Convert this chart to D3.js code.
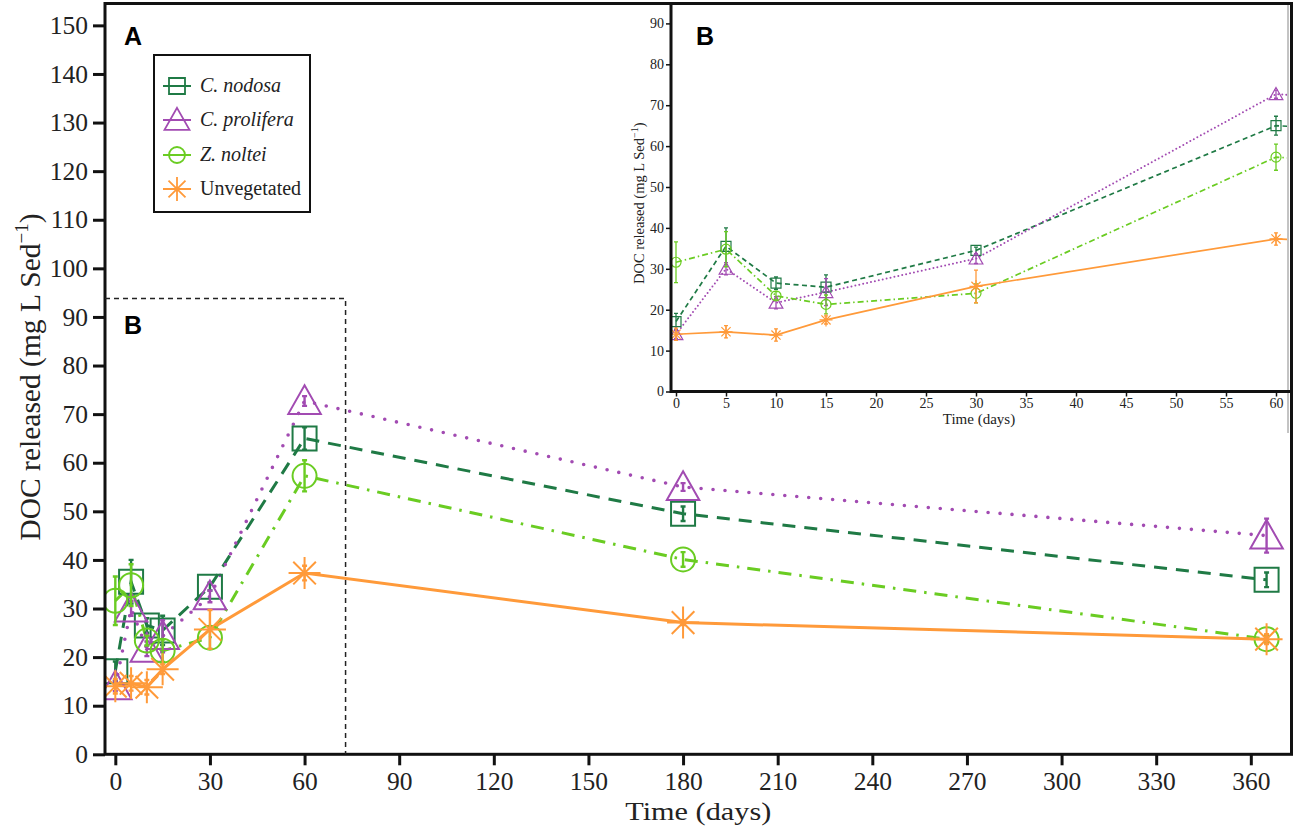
<!DOCTYPE html>
<html><head><meta charset="utf-8">
<script src="https://cdn.jsdelivr.net/npm/d3@7"></script>
<style>body{margin:0;background:#fff}svg{display:block}</style>
</head><body>
<svg id="chart" width="1299" height="830"></svg>
<script>
// ---------- data ----------
const days = [0, 5, 10, 15, 30, 60, 180, 365];
const seriesNames = ["C. nodosa", "C. prolifera", "Z. noltei", "Unvegetated"];
const nodosa      = [17.1, 35.5, 26.5, 25.5, 34.5, 65.0, 49.5, 35.9];
const nodosaErr   = [2.0, 4.5, 1.5, 3.0, 0.8, 2.3, 1.5, 1.5];
const prolifera    = [14.0, 30.0, 21.7, 24.3, 32.5, 72.7, 55.0, 45.0];
const proliferaErr = [1.0, 1.5, 1.5, 3.3, 1.2, 1.0, 0.8, 3.5];
const noltei      = [31.6, 34.8, 23.4, 21.3, 24.0, 57.3, 40.1, 23.7];
const nolteiErr   = [5.0, 4.3, 1.0, 2.3, 2.3, 3.2, 1.5, 0.8];
const unveg       = [14.0, 14.6, 13.8, 17.5, 25.7, 37.3, 27.1, 23.7];
const unvegErr    = [1.5, 1.5, 1.5, 1.0, 4.0, 1.5, 0.5, 1.0];
const mainYTicks = d3.range(0, 151, 10);
const mainXTicks = d3.range(0, 361, 30);
const insetYTicks = d3.range(0, 91, 10);
const insetXTicks = d3.range(0, 61, 5);
const zoomBox = {day: 73, value: 93.8};

// ---------- styles ----------
const colors = ["#1f7a45", "#a24bb2", "#6acc22", "#ff9a3a"];
const symbols = ["square", "triangle", "circle", "asterisk"];
const dashMain = ["13,9", "0,12", "13,8,2.5,8", null];
const dashInset = ["5,3.5", "0,4", "6,3,1.5,3", null];

const series = seriesNames.map((n, i) => ({
  name: n, color: colors[i], symbol: symbols[i],
  vals: [nodosa, prolifera, noltei, unveg][i],
  errs: [nodosaErr, proliferaErr, nolteiErr, unvegErr][i],
  dm: dashMain[i], di: dashInset[i]
}));

const svg = d3.select("#chart");
const SERIF = "'Liberation Serif','Times New Roman',serif";
const SANS = "'Liberation Sans',Arial,sans-serif";

function markerPath(sym, s) {
  if (sym === "square") return `M${-s},${-s}H${s}V${s}H${-s}Z`;
  if (sym === "circle") return `M${s},0A${s},${s} 0 1 1 ${-s},0A${s},${s} 0 1 1 ${s},0Z`;
  if (sym === "triangle") { const w = s * 1.25, h = s * 1.1; return `M0,${-h * 1.1}L${w},${h * 0.9}L${-w},${h * 0.9}Z`; }
  if (sym === "asterisk") {
    const d = s * 0.7071;
    return `M0,${-s}V${s}M${-s},0H${s}M${-d},${-d}L${d},${d}M${-d},${d}L${d},${-d}`;
  }
}

// ---------- main plot ----------
const L = 105, R = 1291.5, T = 3.5, B = 754.3;
const x = d3.scaleLinear().domain([-3.27, 372.9]).range([L, R]);
const y = d3.scaleLinear().domain([0, 154.5]).range([B, T]);

const gMain = svg.append("g");
gMain.append("defs").append("clipPath").attr("id", "clipMain")
  .append("rect").attr("x", L).attr("y", T).attr("width", R - L).attr("height", B - T);

const plotMain = gMain.append("g").attr("clip-path", "url(#clipMain)");
series.forEach(s => {
  const pts = days.map((d, i) => [d, s.vals[i], s.errs[i]]);
  plotMain.append("path")
    .attr("d", d3.line().x(p => x(p[0])).y(p => y(p[1]))(pts))
    .attr("fill", "none").attr("stroke", s.color).attr("stroke-width", s.symbol === "triangle" ? 3.6 : 3)
    .attr("stroke-dasharray", s.dm).attr("stroke-linecap", s.symbol === "triangle" ? "round" : "butt");
});
series.forEach(s => {
  const pts = days.map((d, i) => [d, s.vals[i], s.errs[i]]);
  const eg = plotMain.append("g").attr("stroke", s.color).attr("stroke-width", 2.4).attr("fill", "none");
  eg.selectAll("path.err").data(pts).join("path")
    .attr("d", p => `M${x(p[0])},${y(p[1] - p[2])}V${y(p[1] + p[2])}M${x(p[0]) - 2.5},${y(p[1] - p[2])}h5M${x(p[0]) - 2.5},${y(p[1] + p[2])}h5`);
  eg.selectAll("path.mk").data(pts).join("path")
    .attr("transform", p => `translate(${x(p[0])},${y(p[1])})`)
    .attr("d", markerPath(s.symbol, s.symbol === "asterisk" ? 16 : s.symbol === "triangle" ? 13 : 12))
    .attr("stroke-width", 2);
});

// axes
const axL = gMain.append("g").attr("transform", `translate(${L},0)`)
  .call(d3.axisLeft(y).tickValues(mainYTicks).tickSize(12).tickPadding(5));
const axB = gMain.append("g").attr("transform", `translate(0,${B})`)
  .call(d3.axisBottom(x).tickValues(mainXTicks).tickSize(11).tickPadding(7));
[axL, axB].forEach(a => {
  a.select(".domain").remove();
  a.selectAll(".tick line").attr("stroke", "#111").attr("stroke-width", 3);
  a.selectAll(".tick text").attr("fill", "#222").style("font-family", SERIF).style("font-size", "25.5px");
});
gMain.append("rect").attr("x", L).attr("y", T).attr("width", R - L).attr("height", B - T)
  .attr("fill", "none").attr("stroke", "#111").attr("stroke-width", 3);

// zoom box
gMain.append("path")
  .attr("d", `M${L},${y(zoomBox.value)}H${x(zoomBox.day)}V${B}`)
  .attr("fill", "none").attr("stroke", "#222").attr("stroke-width", 1.5).attr("stroke-dasharray", "5,4");

// titles
svg.append("text").attr("x", (L + R) / 2).attr("y", 820).attr("text-anchor", "middle")
  .attr("textLength", 146).attr("lengthAdjust", "spacingAndGlyphs")
  .style("font-family", SERIF).style("font-size", "26px").attr("fill", "#222").text("Time (days)");
const yt = svg.append("text").attr("transform", `translate(40,377) rotate(-90)`)
  .attr("text-anchor", "middle").style("font-family", SERIF).style("font-size", "29.5px").attr("fill", "#222");
yt.append("tspan").text("DOC released (mg L Sed");
yt.append("tspan").attr("dy", -12).style("font-size", "19px").text("−1");
yt.append("tspan").attr("dy", 12).text(")");

svg.append("text").attr("x", 124).attr("y", 45).style("font-family", SANS).style("font-weight", "bold")
  .style("font-size", "25px").attr("fill", "#000").text("A");
svg.append("text").attr("x", 124).attr("y", 334).style("font-family", SANS).style("font-weight", "bold")
  .style("font-size", "25px").attr("fill", "#000").text("B");

// legend
const lg = svg.append("g");
lg.append("rect").attr("x", 154).attr("y", 55).attr("width", 156).attr("height", 157)
  .attr("fill", "#fff").attr("stroke", "#111").attr("stroke-width", 2);
const legY = [86, 120, 155, 189];
series.forEach((s, i) => {
  const g = lg.append("g").attr("transform", `translate(177,${legY[i]})`);
  g.append("line").attr("x1", -14).attr("x2", 14).attr("stroke", s.color).attr("stroke-width", 2);
  g.append("path").attr("d", markerPath(s.symbol, s.symbol === "asterisk" ? 12 : s.symbol === "triangle" ? 10 : 8))
    .attr("fill", "none").attr("stroke", s.color).attr("stroke-width", 1.8);
  g.append("text").attr("x", 23).attr("y", 6).style("font-family", SERIF).style("font-size", "20px")
    .style("font-style", i < 3 ? "italic" : "normal").attr("fill", "#222").text(s.name);
});

// ---------- inset ----------
const iL = 671, iR = 1291, iT = 5, iB = 391.5;
const xi = d3.scaleLinear().domain([-0.5, 61.5]).range([iL, iR]);
const yi = d3.scaleLinear().domain([0, 94.5]).range([iB, iT]);
const gIn = svg.append("g");
gIn.append("rect").attr("x", 618).attr("y", 5).attr("width", 670).attr("height", 428).attr("fill", "#fff");
gIn.append("line").attr("x1", 1288).attr("x2", 1288).attr("y1", 5).attr("y2", 433).attr("stroke", "#888").attr("stroke-width", 1);
gIn.append("defs").append("clipPath").attr("id", "clipIn")
  .append("rect").attr("x", iL).attr("y", iT).attr("width", 1287 - iL).attr("height", iB - iT);
const plotIn = gIn.append("g").attr("clip-path", "url(#clipIn)");
series.forEach(s => {
  const pts = days.map((d, i) => [d, s.vals[i], s.errs[i]]);
  plotIn.append("path")
    .attr("d", d3.line().x(p => xi(p[0])).y(p => yi(p[1]))(pts))
    .attr("fill", "none").attr("stroke", s.color).attr("stroke-width", s.symbol === "triangle" ? 2 : 1.7)
    .attr("stroke-dasharray", s.di).attr("stroke-linecap", s.symbol === "triangle" ? "round" : "butt");
});
series.forEach(s => {
  const pts = days.map((d, i) => [d, s.vals[i], s.errs[i]]);
  const eg = plotIn.append("g").attr("stroke", s.color).attr("stroke-width", 1.3).attr("fill", "none");
  eg.selectAll("path.err").data(pts).join("path")
    .attr("d", p => `M${xi(p[0])},${yi(p[1] - p[2])}V${yi(p[1] + p[2])}M${xi(p[0]) - 2},${yi(p[1] - p[2])}h4M${xi(p[0]) - 2},${yi(p[1] + p[2])}h4`);
  eg.selectAll("path.mk").data(pts).join("path")
    .attr("transform", p => `translate(${xi(p[0])},${yi(p[1])})`)
    .attr("d", markerPath(s.symbol, s.symbol === "asterisk" ? 6.5 : s.symbol === "triangle" ? 5.5 : 5))
    .attr("stroke-width", 1.2);
});
const aiL = gIn.append("g").attr("transform", `translate(${iL},0)`)
  .call(d3.axisLeft(yi).tickValues(insetYTicks).tickSize(5).tickPadding(2));
const aiB = gIn.append("g").attr("transform", `translate(0,${iB})`)
  .call(d3.axisBottom(xi).tickValues(insetXTicks).tickSize(5).tickPadding(2));
[aiL, aiB].forEach(a => {
  a.select(".domain").remove();
  a.selectAll(".tick line").attr("stroke", "#111").attr("stroke-width", 1.5);
  a.selectAll(".tick text").attr("fill", "#222").style("font-family", SERIF).style("font-size", "14px");
});
gIn.append("path").attr("d", `M${iL},${iT}V${iB}H${iR}`).attr("fill", "none")
  .attr("stroke", "#111").attr("stroke-width", 3);
gIn.append("text").attr("x", (iL + iR) / 2 - 2).attr("y", 424).attr("text-anchor", "middle")
  .style("font-family", SERIF).style("font-size", "15px").attr("fill", "#222").text("Time (days)");
const yti = gIn.append("text").attr("transform", `translate(644,${(iT + iB) / 2 + 5}) rotate(-90)`)
  .attr("text-anchor", "middle").style("font-family", SERIF).style("font-size", "14.5px").attr("fill", "#222");
yti.append("tspan").text("DOC released (mg L Sed");
yti.append("tspan").attr("dy", -6).style("font-size", "10px").text("−1");
yti.append("tspan").attr("dy", 6).text(")");
gIn.append("text").attr("x", 696).attr("y", 45).style("font-family", SANS).style("font-weight", "bold")
  .style("font-size", "25px").attr("fill", "#000").text("B");
</script>
</body></html>
